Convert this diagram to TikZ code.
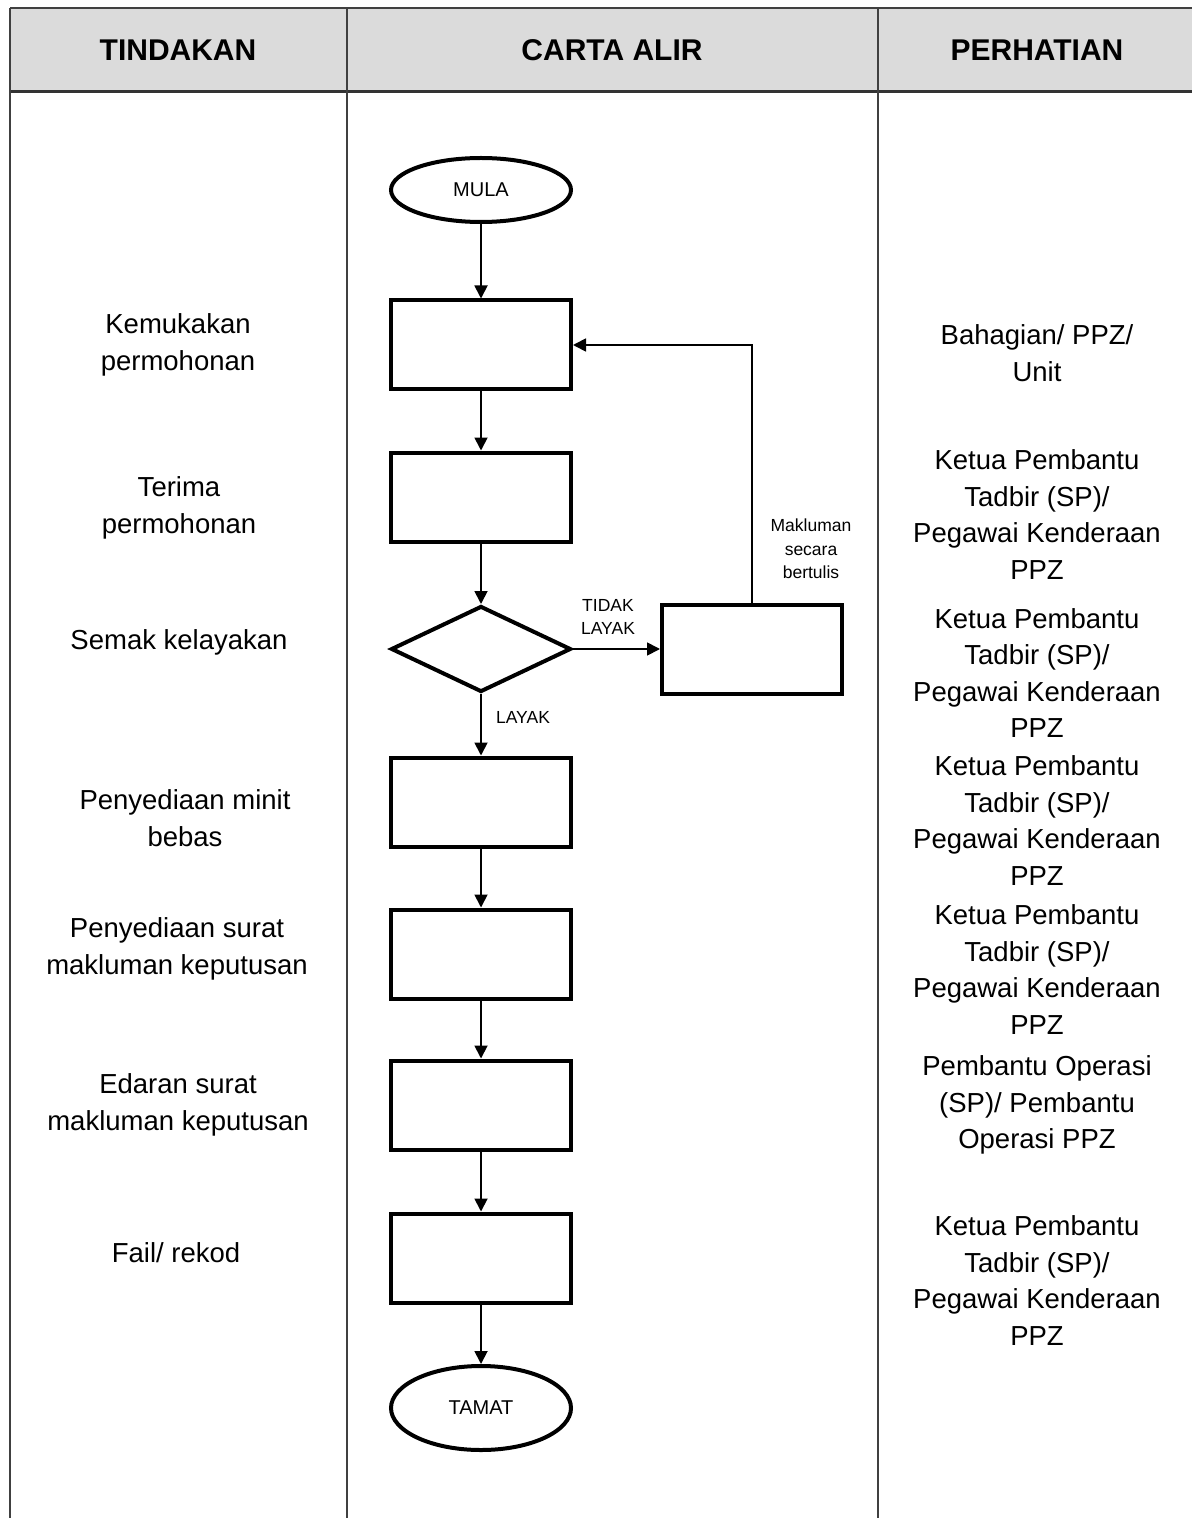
\documentclass[tikz,border=0pt]{standalone}
\usepackage{fontspec}
\setmainfont{Liberation Sans}
\usetikzlibrary{shapes.geometric,arrows.meta}
\begin{document}
\begin{tikzpicture}[x=0.5pt,y=-0.5pt,
  tline/.style={line width=1pt,draw=black!75},
  hdr/.style={font=\fontsize{15pt}{18pt}\selectfont\bfseries},
  txt/.style={align=center,font=\fontsize{13.75pt}{18.25pt}\selectfont},
  lbl/.style={align=center,font=\fontsize{8.75pt}{11.75pt}\selectfont},
  stepbox/.style={draw,line width=2pt,rectangle,minimum width=90pt,minimum height=44.5pt,inner sep=0pt},
  term/.style={draw,line width=2pt,ellipse,minimum width=90pt,inner sep=0pt,font=\fontsize{10pt}{12pt}\selectfont},
  dec/.style={draw,line width=2pt,diamond,minimum width=90pt,minimum height=43pt,inner sep=0pt},
  arr/.style={line width=0.9pt,-{Triangle[length=6.5pt,width=6.5pt]}}]
\useasboundingbox (0,0) rectangle (1192,1518);
% table
\fill[black!14] (10,8) rectangle (1192,92);
\draw[tline] (10,8) -- (1192,8);
\draw[line width=1.5pt,draw=black!80] (10,92) -- (1192,92);
\draw[tline] (10,8) -- (10,1518);
\draw[tline] (347,8) -- (347,1518);
\draw[tline] (878,8) -- (878,1518);
\node[hdr] (h1) at (178,50) {TINDAKAN};
\node[hdr] (h2) at (612,50) {CARTA ALIR};
\node[hdr] (h3) at (1037,50) {PERHATIAN};
% flowchart
\node[term,minimum height=32pt] (mula) at (481,190) {MULA};
\node[stepbox] (b1) at (481,345) {};
\node[stepbox] (b2) at (481,497) {};
\node[dec] (dia) at (481,649) {};
\node[stepbox] (rb) at (752,649) {};
\node[stepbox] (b4) at (481,802) {};
\node[stepbox] (b5) at (481,954) {};
\node[stepbox] (b6) at (481,1105) {};
\node[stepbox] (b7) at (481,1258) {};
\node[term,minimum height=42pt] (tamat) at (481,1408) {TAMAT};
\draw[arr] (mula) -- (b1);
\draw[arr] (b1) -- (b2);
\draw[arr] (b2) -- (dia);
\draw[arr] (dia) -- (rb);
\draw[arr] (dia) -- (b4);
\draw[arr] (rb.north) |- (b1.east);
\draw[arr] (b4) -- (b5);
\draw[arr] (b5) -- (b6);
\draw[arr] (b6) -- (b7);
\draw[arr] (b7) -- (tamat);
\node[lbl] (l1) at (608,617) {TIDAK\\LAYAK};
\node[lbl] (l2) at (523,717) {LAYAK};
\node[lbl] (l3) at (811,549) {Makluman\\secara\\bertulis};
% left column
\node[txt] (t1) at (178,345) {Kemukakan\\permohonan};
\node[txt] (t2) at (179,508) {Terima\\permohonan};
\node[txt] (t3) at (179,642) {Semak kelayakan};
\node[txt] (t4) at (185,818) {Penyediaan minit\\bebas};
\node[txt] (t5) at (177,949) {Penyediaan surat\\makluman keputusan};
\node[txt] (t6) at (178,1105) {Edaran surat\\makluman keputusan};
\node[txt] (t7) at (176,1253) {Fail/ rekod};
% right column
\node[txt] (p1) at (1037,353) {Bahagian/ PPZ/\\Unit};
\node[txt] (p2) at (1037,514.5) {Ketua Pembantu\\Tadbir (SP)/\\Pegawai Kenderaan\\PPZ};
\node[txt] (p3) at (1037,673) {Ketua Pembantu\\Tadbir (SP)/\\Pegawai Kenderaan\\PPZ};
\node[txt] (p4) at (1037,820.5) {Ketua Pembantu\\Tadbir (SP)/\\Pegawai Kenderaan\\PPZ};
\node[txt] (p5) at (1037,969.5) {Ketua Pembantu\\Tadbir (SP)/\\Pegawai Kenderaan\\PPZ};
\node[txt] (p6) at (1037,1105) {Pembantu Operasi\\(SP)/ Pembantu\\Operasi PPZ};
\node[txt] (p7) at (1037,1280.5) {Ketua Pembantu\\Tadbir (SP)/\\Pegawai Kenderaan\\PPZ};
\end{tikzpicture}
\end{document}
